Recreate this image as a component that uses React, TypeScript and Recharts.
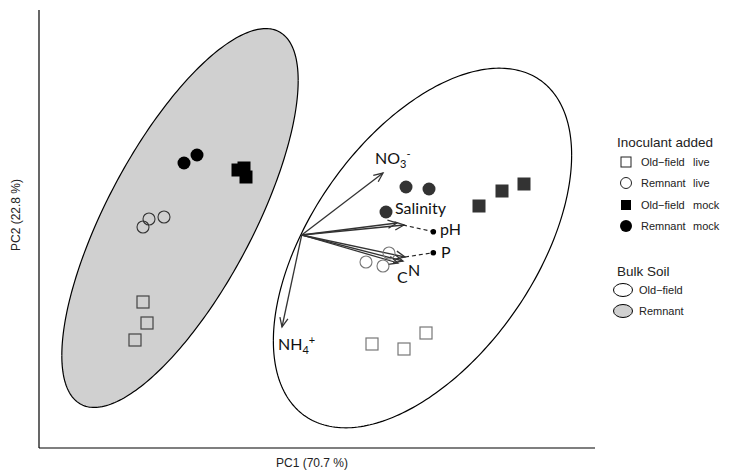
import React from "react";
import { ComposedChart, Area, Scatter, XAxis, YAxis, ReferenceLine } from "recharts";

const xDomain: [number, number] = [-2.78, 2.78];
const yDomain: [number, number] = [-2.19, 2.19];

// bulk soil ellipses: centre x, centre y, semi-major, semi-minor, tilt (deg)
const remnantSoil = [-1.37, 0.11, 2.11, 0.73, 62];
const oldFieldSoil = [1.055, -0.19, 2.05, 1.12, 55];

// samples grown in remnant soil
const remSoilOldFieldLive = [{ x: -1.74, y: -0.73 }, { x: -1.7, y: -0.94 }, { x: -1.82, y: -1.11 }];
const remSoilRemnantLive = [{ x: -1.74, y: 0.02 }, { x: -1.68, y: 0.1 }, { x: -1.53, y: 0.12 }];
const remSoilOldFieldMock = [{ x: -0.79, y: 0.59 }, { x: -0.73, y: 0.61 }, { x: -0.71, y: 0.52 }];
const remSoilRemnantMock = [{ x: -1.33, y: 0.66 }, { x: -1.2, y: 0.74 }];

// samples grown in old-field soil
const oldSoilOldFieldLive = [{ x: 0.55, y: -1.15 }, { x: 0.87, y: -1.2 }, { x: 1.09, y: -1.04 }];
const oldSoilRemnantLive = [{ x: 0.49, y: -0.33 }, { x: 0.66, y: -0.37 }, { x: 0.72, y: -0.24 }];
const oldSoilOldFieldMock = [{ x: 1.62, y: 0.23 }, { x: 1.85, y: 0.38 }, { x: 2.07, y: 0.45 }];
const oldSoilRemnantMock = [{ x: 0.89, y: 0.42 }, { x: 1.12, y: 0.4 }, { x: 0.69, y: 0.17 }];

// environmental vectors
const vectorOrigin = { x: -0.153, y: -0.06 };
const vectorNames = ["NO3", "Salinity", "pH", "C", "N", "P", "NH4"];
const vectorEnds = [
  [0.66, 0.56],
  [0.8, 0.06],
  [0.87, 0.04],
  [0.81, -0.34],
  [0.86, -0.32],
  [0.88, -0.28],
  [-0.35, -0.98],
];
const dashedFrom = [[0.86, 0.04], [0.88, -0.28]];
const dashedTo = [[1.163, -0.027], [1.163, -0.237]];

const labelText = ["NO", "Salinity", "pH", "P", "C", "N", "NH"];
const labelSub = ["3", "", "", "", "", "", "4"];
const labelSup = ["-", "", "", "", "", "", "+"];
const labelPos = [
  [0.58, 0.65],
  [0.78, 0.15],
  [1.23, -0.06],
  [1.24, -0.29],
  [0.8, -0.54],
  [0.91, -0.47],
  [-0.39, -1.21],
];

function ellipseRows(p: number[], key: string, n = 140) {
  const [cx, cy, a, b, deg] = p;
  const t = (deg * Math.PI) / 180;
  const c = Math.cos(t);
  const s = Math.sin(t);
  const half = Math.sqrt(a * a * c * c + b * b * s * s);
  const A = (s * s) / (a * a) + (c * c) / (b * b);
  const rows = [];
  for (let i = 0; i <= n; i++) {
    const dx = -half * Math.cos((Math.PI * i) / n);
    const B = 2 * dx * c * s * (1 / (a * a) - 1 / (b * b));
    const C = dx * dx * ((c * c) / (a * a) + (s * s) / (b * b)) - 1;
    const disc = Math.sqrt(Math.max(0, B * B - 4 * A * C));
    rows.push({ x: cx + dx, [key]: [cy + (-B - disc) / (2 * A), cy + (-B + disc) / (2 * A)] });
  }
  return rows;
}

const soilRows = [...ellipseRows(remnantSoil, "remnant"), ...ellipseRows(oldFieldSoil, "oldField")];
const labelRows = labelText.map((t, i) => ({ x: labelPos[i][0], y: labelPos[i][1], t, sub: labelSub[i], sup: labelSup[i] }));
const dotRows = dashedTo.map(([x, y]) => ({ x, y }));

const openSquare = (color: string) => (p: any) => (
  <rect x={p.cx - 6} y={p.cy - 6} width={12} height={12} fill="none" stroke={color} strokeWidth={1.2} />
);
const filledSquare = (color: string) => (p: any) => (
  <rect x={p.cx - 6.5} y={p.cy - 6.5} width={13} height={13} fill={color} />
);
const openCircle = (color: string) => (p: any) => (
  <circle cx={p.cx} cy={p.cy} r={6} fill="none" stroke={color} strokeWidth={1.1} />
);
const filledCircle = (color: string) => (p: any) => <circle cx={p.cx} cy={p.cy} r={6.5} fill={color} />;

const arrowShape = (p: any) => {
  const { x1, y1, x2, y2 } = p;
  const ang = Math.atan2(y2 - y1, x2 - x1);
  const len = 10;
  const spread = 0.42;
  const ax = x2 - len * Math.cos(ang - spread);
  const ay = y2 - len * Math.sin(ang - spread);
  const bx = x2 - len * Math.cos(ang + spread);
  const by = y2 - len * Math.sin(ang + spread);
  return (
    <g>
      <line x1={x1} y1={y1} x2={x2} y2={y2} stroke="#333" strokeWidth={1.3} />
      <polyline points={`${ax},${ay} ${x2},${y2} ${bx},${by}`} fill="none" stroke="#333" strokeWidth={1.3} />
    </g>
  );
};

const vectorLabel = (p: any) => {
  const d = p.payload;
  return (
    <text x={p.cx} y={p.cy} fontFamily="Lato" fontSize={16} fill="#111">
      {d.t}
      {d.sub && (
        <tspan fontSize={11} dy={4}>
          {d.sub}
        </tspan>
      )}
      {d.sup && (
        <tspan fontSize={11} dy={-10}>
          {d.sup}
        </tspan>
      )}
    </text>
  );
};

const legendFont = "Liberation Sans, Arial, sans-serif";

function LegendOverlay() {
  const rows = [
    ["Old\u2212field", "live"],
    ["Remnant", "live"],
    ["Old\u2212field", "mock"],
    ["Remnant", "mock"],
  ];
  const ys = [162, 183, 205, 226];
  return (
    <svg width={730} height={473} style={{ position: "absolute", left: 0, top: 0, pointerEvents: "none" }}>
      <g fontFamily={legendFont} fill="#222">
        <text x={617} y={147} fontSize={13.5}>Inoculant added</text>
        {rows.map((r, i) => (
          <g key={i}>
            {i === 0 && <rect x={621} y={ys[i] - 5} width={10} height={10} fill="none" stroke="#222" />}
            {i === 1 && <circle cx={626} cy={ys[i]} r={5.5} fill="none" stroke="#222" />}
            {i === 2 && <rect x={621} y={ys[i] - 5} width={10} height={10} fill="#000" />}
            {i === 3 && <circle cx={626} cy={ys[i]} r={6} fill="#000" />}
            <text x={641} y={ys[i] + 4} fontSize={11}>{r[0]}</text>
            <text x={693} y={ys[i] + 4} fontSize={11}>{r[1]}</text>
          </g>
        ))}
        <text x={617} y={276} fontSize={13.5}>Bulk Soil</text>
        <ellipse cx={623} cy={290} rx={9.5} ry={6.5} fill="#fff" stroke="#000" />
        <text x={639} y={294} fontSize={11}>Old{"\u2212"}field</text>
        <ellipse cx={623} cy={311} rx={9.5} ry={6.5} fill="#d0d0d0" stroke="#000" />
        <text x={639} y={315} fontSize={11}>Remnant</text>
      </g>
    </svg>
  );
}

export default function App() {
  return (
    <div style={{ position: "relative", width: 730, height: 473, background: "#fff" }}>
      <style>{"body{margin:0}"}</style>
      <ComposedChart width={730} height={473} data={soilRows} margin={{ top: 10, right: 135, bottom: 0, left: 0 }}>
        <XAxis
          type="number"
          dataKey="x"
          domain={xDomain}
          allowDataOverflow
          tick={false}
          tickLine={false}
          height={25}
          axisLine={{ stroke: "#000", strokeWidth: 1.2 }}
          label={{
            content: (p: any) => (
              <text
                x={p.viewBox.x + p.viewBox.width / 2 - 5}
                y={p.viewBox.y + 19}
                textAnchor="middle"
                fontFamily={legendFont}
                fontSize={12}
                fill="#222"
              >
                PC1 (70.7 %)
              </text>
            ),
          }}
        />
        <YAxis
          type="number"
          dataKey="y"
          domain={yDomain}
          allowDataOverflow
          tick={false}
          tickLine={false}
          width={39}
          axisLine={{ stroke: "#000", strokeWidth: 1.2 }}
          label={{
            content: (p: any) => (
              <text
                x={20}
                y={215}
                transform="rotate(-90 20 215)"
                textAnchor="middle"
                fontFamily={legendFont}
                fontSize={12}
                fill="#222"
              >
                PC2 (22.8 %)
              </text>
            ),
          }}
        />
        <Area
          dataKey="remnant"
          type="linear"
          connectNulls
          stroke="#000"
          strokeWidth={1.2}
          fill="#d0d0d0"
          fillOpacity={1}
          dot={false}
          activeDot={false}
          isAnimationActive={false}
        />
        <Area
          dataKey="oldField"
          type="linear"
          connectNulls
          stroke="#000"
          strokeWidth={1.2}
          fill="none"
          dot={false}
          activeDot={false}
          isAnimationActive={false}
        />
        {vectorEnds.map(([x, y], i) => (
          <ReferenceLine
            key={vectorNames[i]}
            segment={[vectorOrigin, { x, y }]}
            shape={arrowShape}
            ifOverflow="visible"
          />
        ))}
        {dashedFrom.map(([x, y], i) => (
          <ReferenceLine
            key={"d" + i}
            segment={[{ x, y }, { x: dashedTo[i][0], y: dashedTo[i][1] }]}
            stroke="#222"
            strokeWidth={1.1}
            strokeDasharray="4 3"
            ifOverflow="visible"
          />
        ))}
        <Scatter data={dotRows} shape={(p: any) => <circle cx={p.cx} cy={p.cy} r={2.8} fill="#000" />} isAnimationActive={false} />
        <Scatter data={remSoilOldFieldLive} shape={openSquare("#444")} isAnimationActive={false} />
        <Scatter data={remSoilRemnantLive} shape={openCircle("#333")} isAnimationActive={false} />
        <Scatter data={remSoilOldFieldMock} shape={filledSquare("#000")} isAnimationActive={false} />
        <Scatter data={remSoilRemnantMock} shape={filledCircle("#000")} isAnimationActive={false} />
        <Scatter data={oldSoilOldFieldLive} shape={openSquare("#777")} isAnimationActive={false} />
        <Scatter data={oldSoilRemnantLive} shape={openCircle("#777")} isAnimationActive={false} />
        <Scatter data={oldSoilOldFieldMock} shape={filledSquare("#333")} isAnimationActive={false} />
        <Scatter data={oldSoilRemnantMock} shape={filledCircle("#333")} isAnimationActive={false} />
        <Scatter data={labelRows} shape={vectorLabel} isAnimationActive={false} />
      </ComposedChart>
      <LegendOverlay />
    </div>
  );
}
